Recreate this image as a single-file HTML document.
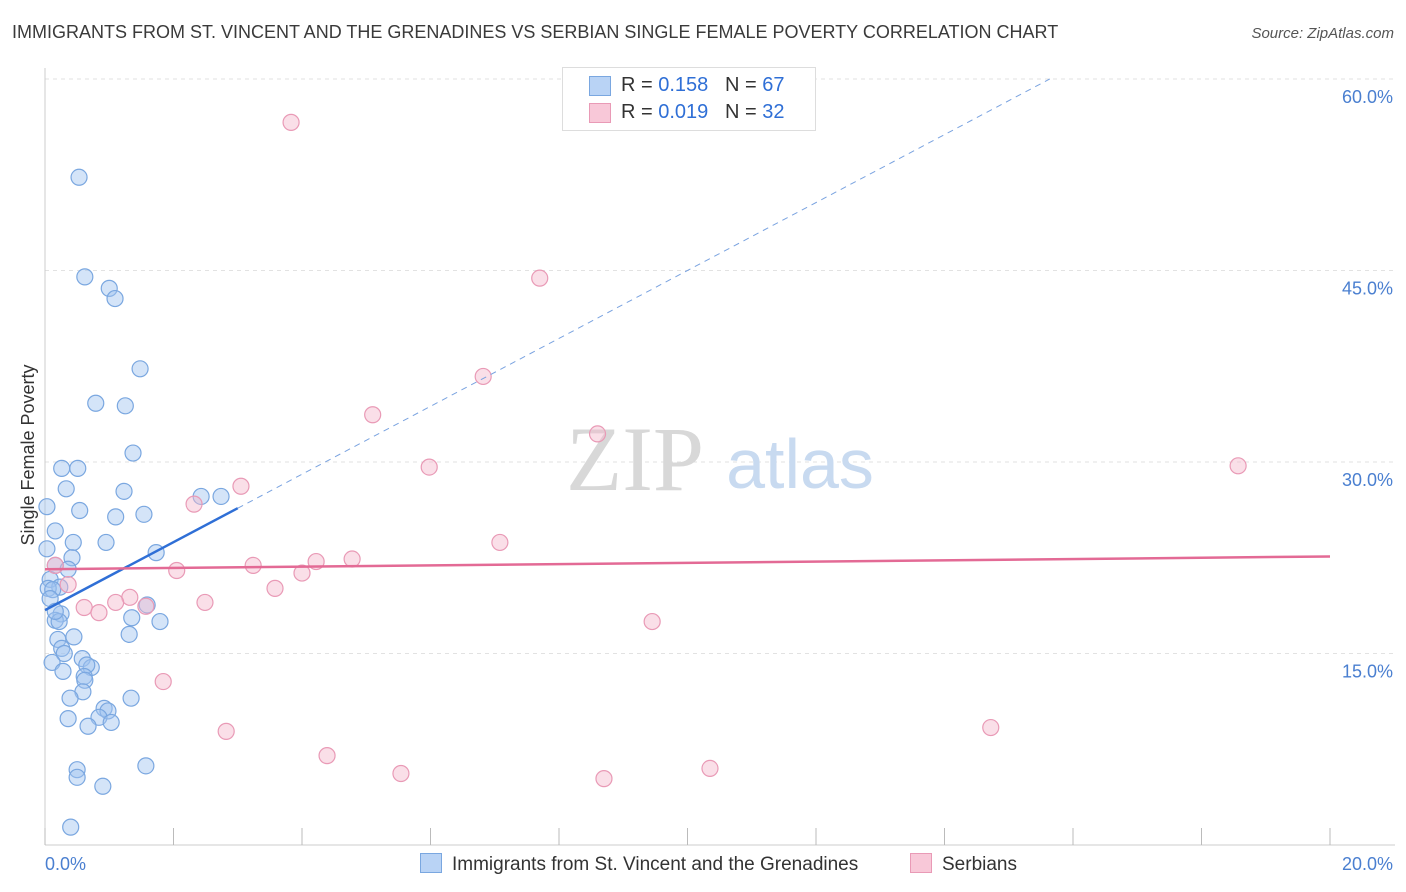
<!DOCTYPE html>
<html><head><meta charset="utf-8"><style>
body{margin:0;background:#fff;font-family:"Liberation Sans",sans-serif;}
#wrap{position:relative;width:1406px;height:892px;overflow:hidden;}
.t{position:absolute;white-space:nowrap;}
</style></head><body>
<div id="wrap">
<div class="t" style="left:12px;top:22px;font-size:18px;color:#3a3a3a;">IMMIGRANTS FROM ST. VINCENT AND THE GRENADINES VS SERBIAN SINGLE FEMALE POVERTY CORRELATION CHART</div>
<div class="t" style="right:12px;top:25px;font-size:15px;color:#555;font-style:italic;">Source: ZipAtlas.com</div>
<svg id="svg" width="1406" height="892" style="position:absolute;left:0;top:0"></svg>
</div>
<script>
const blueX=[0.53,0.62,1.0,1.09,1.48,0.79,1.25,1.37,0.26,0.51,0.33,1.23,0.03,0.54,1.1,1.54,0.16,0.95,0.44,1.73,0.03,0.42,0.16,0.36,0.08,0.23,0.05,0.12,1.59,0.25,0.16,0.22,1.79,1.35,1.31,0.45,0.2,0.26,0.3,0.11,0.58,0.72,0.65,0.28,0.61,0.62,0.59,0.39,1.34,0.92,0.98,0.84,0.36,0.67,1.03,0.5,1.57,0.5,0.9,0.4,2.43,2.74,0.08,0.16];
const blueY=[52.3,44.5,43.6,42.8,37.3,34.6,34.4,30.7,29.5,29.5,27.9,27.7,26.5,26.2,25.7,25.9,24.6,23.7,23.7,22.9,23.2,22.5,21.9,21.6,20.8,20.2,20.1,20.0,18.8,18.1,17.6,17.5,17.5,17.8,16.5,16.3,16.1,15.4,15.0,14.3,14.6,13.9,14.1,13.6,13.2,12.9,12.0,11.5,11.5,10.7,10.5,10.0,9.9,9.3,9.6,5.9,6.2,5.3,4.6,1.4,27.3,27.3,19.3,18.3];
const pinkX=[3.83,7.7,6.82,5.1,8.6,5.98,18.57,3.05,2.32,7.08,4.78,4.22,3.24,2.05,4.0,0.36,3.58,1.32,1.1,1.57,2.49,0.61,0.84,9.45,1.84,2.82,14.72,4.39,5.54,8.7,10.35,0.16];
const pinkY=[56.6,44.4,36.7,33.7,32.2,29.6,29.7,28.1,26.7,23.7,22.4,22.2,21.9,21.5,21.3,20.4,20.1,19.4,19.0,18.7,19.0,18.6,18.2,17.5,12.8,8.9,9.2,7.0,5.6,5.2,6.0,21.9];
const yTicks=[15,30,45,60];
const yTickLabels=["15.0%","30.0%","45.0%","60.0%"];
const xTicks=[0,2,4,6,8,10,12,14,16,18,20];
const blueTrend=[18.4,2.66]; // intercept, slope
const pinkTrend=[21.6,22.6]; // y at x=0, y at x=20
const X=v=>45+v*64.25, Y=v=>845-v*12.767;
const svg=document.getElementById('svg');
const NS='http://www.w3.org/2000/svg';
function mk(tag,attrs,name){const e=document.createElementNS(NS,tag);for(const k in attrs)e.setAttribute(k,attrs[k]);


svg.appendChild(e);return e;}
// gridlines
yTicks.forEach((v,i)=>{mk('line',{x1:45,x2:1395,y1:Y(v),y2:Y(v),stroke:'#e2e2e2','stroke-dasharray':'4,4'},'gridline');
const t=mk('text',{x:1393,y:Y(v)+24,'text-anchor':'end','font-size':18,fill:'#4a7fd0','font-family':'Liberation Sans'},'y-tick-label');t.textContent=yTickLabels[i];});
mk('line',{x1:45,x2:45,y1:68,y2:845,stroke:'#ccc'},'y-axis-line');
mk('line',{x1:45,x2:1395,y1:845,y2:845,stroke:'#ccc'},'x-axis-line');
xTicks.forEach(v=>mk('line',{x1:X(v),x2:X(v),y1:828,y2:845,stroke:'#bbb'},'x-tick'));
const xl=mk('text',{x:45,y:870,'font-size':18,fill:'#4a7fd0','font-family':'Liberation Sans'},'x-min-label');xl.textContent='0.0%';
const xr=mk('text',{x:1393,y:870,'text-anchor':'end','font-size':18,fill:'#4a7fd0','font-family':'Liberation Sans'},'x-max-label');xr.textContent='20.0%';
const yt=mk('text',{x:34,y:455,'text-anchor':'middle','font-size':18,fill:'#333',transform:'rotate(-90 34 455)','font-family':'Liberation Sans'},'y-axis-title');yt.textContent='Single Female Poverty';
// watermark
const w1=mk('text',{x:635,y:490,'text-anchor':'middle','font-size':92,fill:'#d8d8d8','font-family':'Liberation Serif'},'watermark-zip');w1.textContent='ZIP';
const w2=mk('text',{x:800,y:488,'text-anchor':'middle','font-size':70,fill:'#c8daf0','font-family':'Liberation Sans'},'watermark-atlas');w2.textContent='atlas';
// points
blueX.forEach((v,i)=>mk('circle',{cx:X(v),cy:Y(blueY[i]),r:8,fill:'rgba(160,196,240,0.45)',stroke:'#7aa7e0','stroke-width':1.2},'blue-point'));
pinkX.forEach((v,i)=>mk('circle',{cx:X(v),cy:Y(pinkY[i]),r:8,fill:'rgba(245,185,205,0.45)',stroke:'#e99ab6','stroke-width':1.2},'pink-point'));
// trends
const xEnd=(60-blueTrend[0])/blueTrend[1];
mk('line',{x1:X(0),y1:Y(blueTrend[0]),x2:X(3),y2:Y(blueTrend[0]+3*blueTrend[1]),stroke:'#2f6fd6','stroke-width':2.5},'blue-trend-line');
mk('line',{x1:X(3),y1:Y(blueTrend[0]+3*blueTrend[1]),x2:X(xEnd),y2:Y(60),stroke:'#7aa3e0','stroke-width':1,'stroke-dasharray':'6,5'},'blue-trend-extension');
mk('line',{x1:X(0),y1:Y(pinkTrend[0]),x2:X(20),y2:Y(pinkTrend[1]),stroke:'#e36a95','stroke-width':2.5},'pink-trend-line');
</script>
<div class="t" style="left:562px;top:67px;width:252px;height:62px;border:1px solid #ddd;background:#fff;font-size:20px;color:#333;">
<div style="position:absolute;left:26px;top:8px;width:20px;height:18px;background:#b9d3f5;border:1px solid #7aa7e0"></div>
<div style="position:absolute;left:58px;top:6px;">R = <span style="color:#2f6fd6">0.158</span>&nbsp;&nbsp;&nbsp;N = <span style="color:#2f6fd6">67</span></div>
<div style="position:absolute;left:26px;top:35px;width:20px;height:18px;background:#f8c8d8;border:1px solid #e99ab6"></div>
<div style="position:absolute;left:58px;top:33px;">R = <span style="color:#2f6fd6">0.019</span>&nbsp;&nbsp;&nbsp;N = <span style="color:#2f6fd6">32</span></div>
</div>
<div class="t" style="left:420px;top:853px;font-size:19px;color:#333;"><span style="display:inline-block;width:20px;height:18px;background:#b9d3f5;border:1px solid #7aa7e0;vertical-align:-3px;margin-right:10px"></span>Immigrants from St. Vincent and the Grenadines</div>
<div class="t" style="left:910px;top:853px;font-size:19px;color:#333;"><span style="display:inline-block;width:20px;height:18px;background:#f8c8d8;border:1px solid #e99ab6;vertical-align:-3px;margin-right:10px"></span>Serbians</div>
</body></html>
